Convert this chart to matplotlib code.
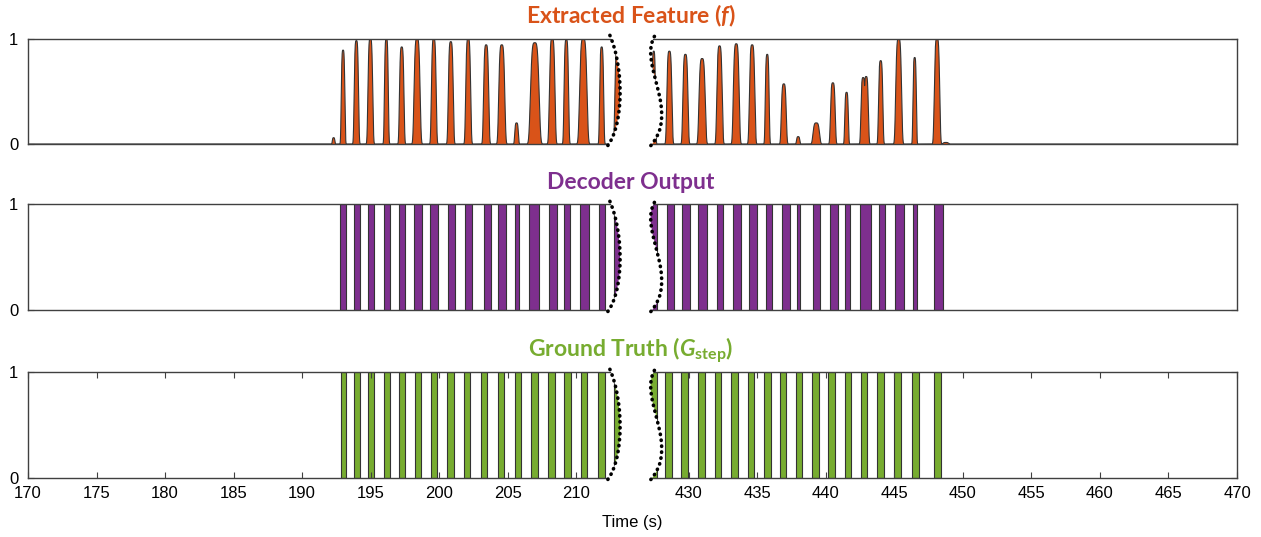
import numpy as np
import matplotlib
matplotlib.use('Agg')
import matplotlib.pyplot as plt
from matplotlib.patches import PathPatch
from matplotlib.path import Path

plt.rcParams['font.family'] = ['Liberation Sans', 'DejaVu Sans']
plt.rcParams['mathtext.fontset'] = 'custom'
plt.rcParams['mathtext.it'] = 'Lato:italic:bold'
plt.rcParams['mathtext.bf'] = 'Lato:bold'
plt.rcParams['mathtext.rm'] = 'Lato'

# Extracted feature peaks (time in s, peak height, base width in s)
feat_center = [192.30, 192.99, 193.96, 194.98, 196.15, 197.27, 198.39, 199.61, 200.85,
               202.12, 203.43, 204.57, 205.65, 206.98, 208.25, 209.28, 210.52, 211.86, 213.0,
               427.44, 428.58, 429.75, 430.97, 432.24, 433.46, 434.62, 435.72, 436.93,
               437.98, 439.30, 440.51, 441.51, 442.72, 442.94, 444.00, 445.31, 446.48,
               448.11, 448.75]
feat_height = [0.06, 0.89, 0.98, 1.0, 1.0, 0.92, 1.0, 1.0, 0.97,
               1.0, 0.94, 0.94, 0.20, 0.96, 1.0, 0.99, 1.0, 0.92, 0.9,
               0.88, 0.88, 0.85, 0.81, 0.93, 0.95, 0.94, 0.85, 0.57,
               0.07, 0.20, 0.58, 0.49, 0.63, 0.64, 0.79, 1.0, 0.82,
               1.0, 0.015]
feat_width = [0.29, 0.41, 0.49, 0.54, 0.44, 0.51, 0.68, 0.54, 0.56,
              0.56, 0.58, 0.68, 0.41, 0.97, 0.63, 0.51, 0.83, 0.46, 0.55,
              0.40, 0.58, 0.58, 0.71, 0.61, 0.66, 0.61, 0.44, 0.56,
              0.37, 0.73, 0.54, 0.41, 0.50, 0.50, 0.49, 0.66, 0.39,
              0.61, 0.60]

# Decoder output: on-intervals (start, end) in s
dec_start = [192.79, 193.76, 194.78, 195.95, 197.08, 198.14, 199.36, 200.63, 201.90,
             203.26, 204.33, 205.57, 206.54, 208.03, 209.10, 210.27, 211.69, 212.73,
             427.00, 428.39, 429.51, 430.70, 432.04, 433.21, 434.38, 435.65, 436.79,
             437.91, 439.05, 440.32, 441.39, 442.51, 443.87, 445.04, 446.36, 447.89]
dec_end = [193.23, 194.20, 195.27, 196.39, 197.52, 198.73, 199.95, 201.17, 202.41,
           203.80, 204.87, 205.81, 207.27, 208.57, 209.52, 210.91, 212.07, 213.40,
           427.65, 428.95, 430.10, 431.31, 432.53, 433.84, 434.99, 436.04, 437.35,
           438.08, 439.59, 440.86, 441.73, 443.32, 444.29, 445.68, 446.68, 448.55]

# Ground truth steps: (start, end) in s
gt_start = [192.81, 193.76, 194.78, 195.95, 197.05, 198.22, 199.41, 200.60, 201.82,
            203.04, 204.26, 205.50, 206.72, 207.93, 209.13, 210.32, 211.58, 212.75,
            427.00, 428.29, 429.46, 430.70, 431.92, 433.09, 434.30, 435.47, 436.67,
            437.79, 438.98, 440.15, 441.37, 442.54, 443.76, 444.98, 446.30, 447.86]
gt_end = [193.20, 194.25, 195.22, 196.39, 197.54, 198.68, 199.85, 201.09, 202.28,
          203.51, 204.72, 205.99, 207.20, 208.42, 209.59, 210.81, 212.07, 213.24,
          427.65, 428.77, 429.94, 431.17, 432.36, 433.57, 434.79, 436.01, 437.11,
          438.28, 439.47, 440.64, 441.86, 443.03, 444.24, 445.47, 446.79, 448.40]

xticks = [170, 175, 180, 185, 190, 195, 200, 205, 210,
          430, 435, 440, 445, 450, 455, 460, 465, 470]

ORANGE = '#D95319'
PURPLE = '#7E2F8E'
GREEN = '#77AC30'
EDGE = '#333333'

# squeeze the unused middle of the time axis
A, B, GAP = 213.5, 426.3, 1.02


def fwd(x):
    x = np.asarray(x, dtype=float)
    return np.where(x <= A, x, np.where(x >= B, x - (B - A) + GAP, A + (x - A) * GAP / (B - A)))


def inv(y):
    y = np.asarray(y, dtype=float)
    return np.where(y <= A, y, np.where(y >= A + GAP, y + (B - A) - GAP, A + (y - A) * (B - A) / GAP))


# break curves as cubic beziers (x in s, y in axes fraction)
left_bez = [(212.46, 1.03), (213.55, 0.72), (213.55, 0.15), (212.15, -0.04)]
right_bez = [(427.49, 1.02), (424.6, 0.75), (429.5, 0.30), (427.12, -0.03)]
C4 = Path.CURVE4
left_path = Path(left_bez, [Path.MOVETO, C4, C4, C4])
right_path = Path(right_bez, [Path.MOVETO, C4, C4, C4])
gap_path = Path(left_bez + right_bez[::-1] + [left_bez[0]],
                [Path.MOVETO, C4, C4, C4, Path.LINETO, C4, C4, C4, Path.CLOSEPOLY])

t = np.arange(170, 470, 0.004)
feature = np.zeros_like(t)
for c, h, w in zip(feat_center, feat_height, feat_width):
    feature = np.maximum(feature, h * np.exp(-((t - c) / (0.36 * w)) ** 4))

fig = plt.figure(figsize=(12.61, 5.37), dpi=100)
left, width, height = 28 / 1261, 1209 / 1261, 0.1965
bottoms = [0.7318, 0.4227, 0.1099]
axes = [fig.add_axes([left, b, width, height]) for b in bottoms]

for ax in axes:
    ax.set_xscale('function', functions=(fwd, inv))
    ax.set_xlim(170, 470)
    ax.set_ylim(0, 1)
    ax.set_yticks([0, 1])
    ax.tick_params(axis='both', direction='in', length=4, labelsize=12, top=True, right=True,
                   color='#404040')
    ax.tick_params(axis='y', pad=7)
    ax.tick_params(axis='x', pad=6)
    for s in ax.spines.values():
        s.set_color('#404040')
        s.set_linewidth(1.0)

axes[0].fill_between(t, 0, feature, facecolor=ORANGE, edgecolor='none', zorder=1)
axes[0].plot(t, feature, color=EDGE, lw=0.8, zorder=2)

axes[1].bar(dec_start, 1, width=np.array(dec_end) - np.array(dec_start), align='edge',
            color=PURPLE, edgecolor=EDGE, linewidth=0.8)
axes[2].bar(gt_start, 1, width=np.array(gt_end) - np.array(gt_start), align='edge',
            color=GREEN, edgecolor=EDGE, linewidth=0.8)

axes[0].set_xticks([])
axes[1].set_xticks([])
axes[2].set_xticks(xticks)
axes[2].set_xticklabels([str(v) for v in xticks])
axes[2].set_xlabel('Time (s)', fontsize=12, labelpad=10)

# white gap with dotted break lines
for ax in axes:
    tr = ax.get_xaxis_transform()
    ax.add_patch(PathPatch(gap_path, transform=tr, facecolor='white', edgecolor='none',
                           clip_on=False, zorder=3))
    for p in (left_path, right_path):
        ax.add_patch(PathPatch(p, transform=tr, fill=False, edgecolor='black', lw=2.6,
                               ls=(0, (0.1, 1.55)), capstyle='round', clip_on=False, zorder=4))

title_kw = dict(ha='center', va='center', fontsize=16.5, fontweight='bold', family='Lato')
fig.text(0.5, 1 - 16 / 537, r'Extracted Feature ($\mathit{f}$)', color=ORANGE, **title_kw)
fig.text(0.5, 1 - 183 / 537, 'Decoder Output', color=PURPLE, **title_kw)
fig.text(0.5, 1 - 350 / 537, r'Ground Truth ($\mathit{G}_{\mathbf{step}}$)', color=GREEN, **title_kw)

fig.savefig('out.png', dpi=100)
